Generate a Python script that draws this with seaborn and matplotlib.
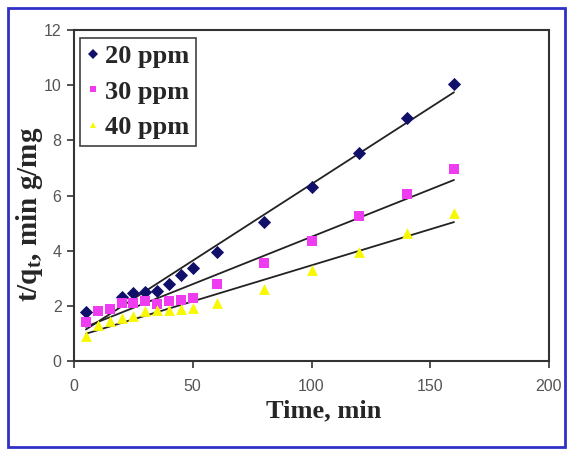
import numpy as np
import pandas as pd
import seaborn as sns
import matplotlib.pyplot as plt
from matplotlib.patches import Rectangle
from matplotlib.lines import Line2D

time_20 = [5, 20, 25, 30, 35, 40, 45, 50, 60, 80, 100, 120, 140, 160]
tq_20 = [1.76, 2.32, 2.46, 2.5, 2.55, 2.8, 3.13, 3.38, 3.95, 5.05, 6.3, 7.55, 8.8, 10.05]

time_30 = [5, 10, 15, 20, 25, 30, 35, 40, 45, 50, 60, 80, 100, 120, 140, 160]
tq_30 = [1.4, 1.83, 1.9, 2.1, 2.1, 2.18, 2.06, 2.18, 2.22, 2.3, 2.8, 3.55, 4.35, 5.25, 6.05, 6.95]

time_40 = [5, 10, 15, 20, 25, 30, 35, 40, 45, 50, 60, 80, 100, 120, 140, 160]
tq_40 = [0.92, 1.3, 1.45, 1.55, 1.62, 1.8, 1.85, 1.85, 1.9, 1.93, 2.1, 2.62, 3.3, 3.95, 4.65, 5.35]

labels = ["20 ppm", "30 ppm", "40 ppm"]
colors = ["#10106a", "#f03cf0", "#f8f800"]
markers = ["D", "s", "^"]
x_ticks = [0, 50, 100, 150, 200]
y_ticks = [0, 2, 4, 6, 8, 10, 12]

sns.set_theme(style="white")
plt.rcParams["mathtext.fontset"] = "custom"
plt.rcParams["mathtext.bf"] = "Liberation Serif:bold"
plt.rcParams["mathtext.rm"] = "Liberation Serif:bold"
plt.rcParams["mathtext.it"] = "Liberation Serif:bold"

fig = plt.figure(figsize=(5.69, 4.49), dpi=100)
ax = fig.add_axes([74 / 569, 1 - 361 / 449, (549 - 74) / 569, (361 - 30) / 449])

series = [(time_20, tq_20), (time_30, tq_30), (time_40, tq_40)]
sizes = [45, 50, 60]
handles = []
for (t, q), lab, c, m, s in zip(series, labels, colors, markers, sizes):
    df = pd.DataFrame({"t": t, "q": q})
    sns.regplot(data=df, x="t", y="q", ax=ax, ci=None, marker=m,
                scatter_kws=dict(color=c, s=s, linewidths=0, alpha=1, zorder=3),
                line_kws=dict(color="#222222", lw=1.3, zorder=2))
    handles.append(Line2D([], [], ls="none", marker=m, color=c, markersize=5,
                          markeredgewidth=0))

ax.set_xlim(0, 200)
ax.set_ylim(0, 12)
ax.set_xticks(x_ticks)
ax.set_yticks(y_ticks)
ax.tick_params(axis="both", direction="out", length=5, width=1.2, color="#333333",
               labelsize=11.5, labelcolor="#555555", bottom=True, left=True, pad=4)
ax.tick_params(axis="x", pad=8)
for lbl in ax.get_xticklabels() + ax.get_yticklabels():
    lbl.set_fontfamily("Liberation Sans")
for sp in ax.spines.values():
    sp.set_color("#333333")
    sp.set_linewidth(1.5)

ax.set_xlabel("Time, min", fontfamily="Liberation Serif", fontweight="bold",
              fontsize=19)
ax.set_ylabel(r"t/q$_\mathbf{t}$, min g/mg", fontfamily="Liberation Serif",
              fontweight="bold", fontsize=21)
ax.xaxis.set_label_coords(0.526, -0.115)
ax.yaxis.set_label_coords(-0.062, 0.444)

leg = ax.legend(handles, labels, loc="upper left", bbox_to_anchor=(0.013, 0.975),
                frameon=True, fancybox=False, handlelength=0.5, handletextpad=0.2,
                borderpad=0.25, labelspacing=0.45, borderaxespad=0,
                prop=dict(family="Liberation Serif", weight="bold", size=19))
leg.get_frame().set_edgecolor("#111111")
leg.get_frame().set_linewidth(1.2)

fig.patches.append(Rectangle((8 / 569, 1 - 447 / 449), (565 - 8) / 569, (447 - 8) / 449,
                             transform=fig.transFigure, fill=False,
                             edgecolor="#3030c8", linewidth=2))

fig.savefig("out.png", dpi=100)
